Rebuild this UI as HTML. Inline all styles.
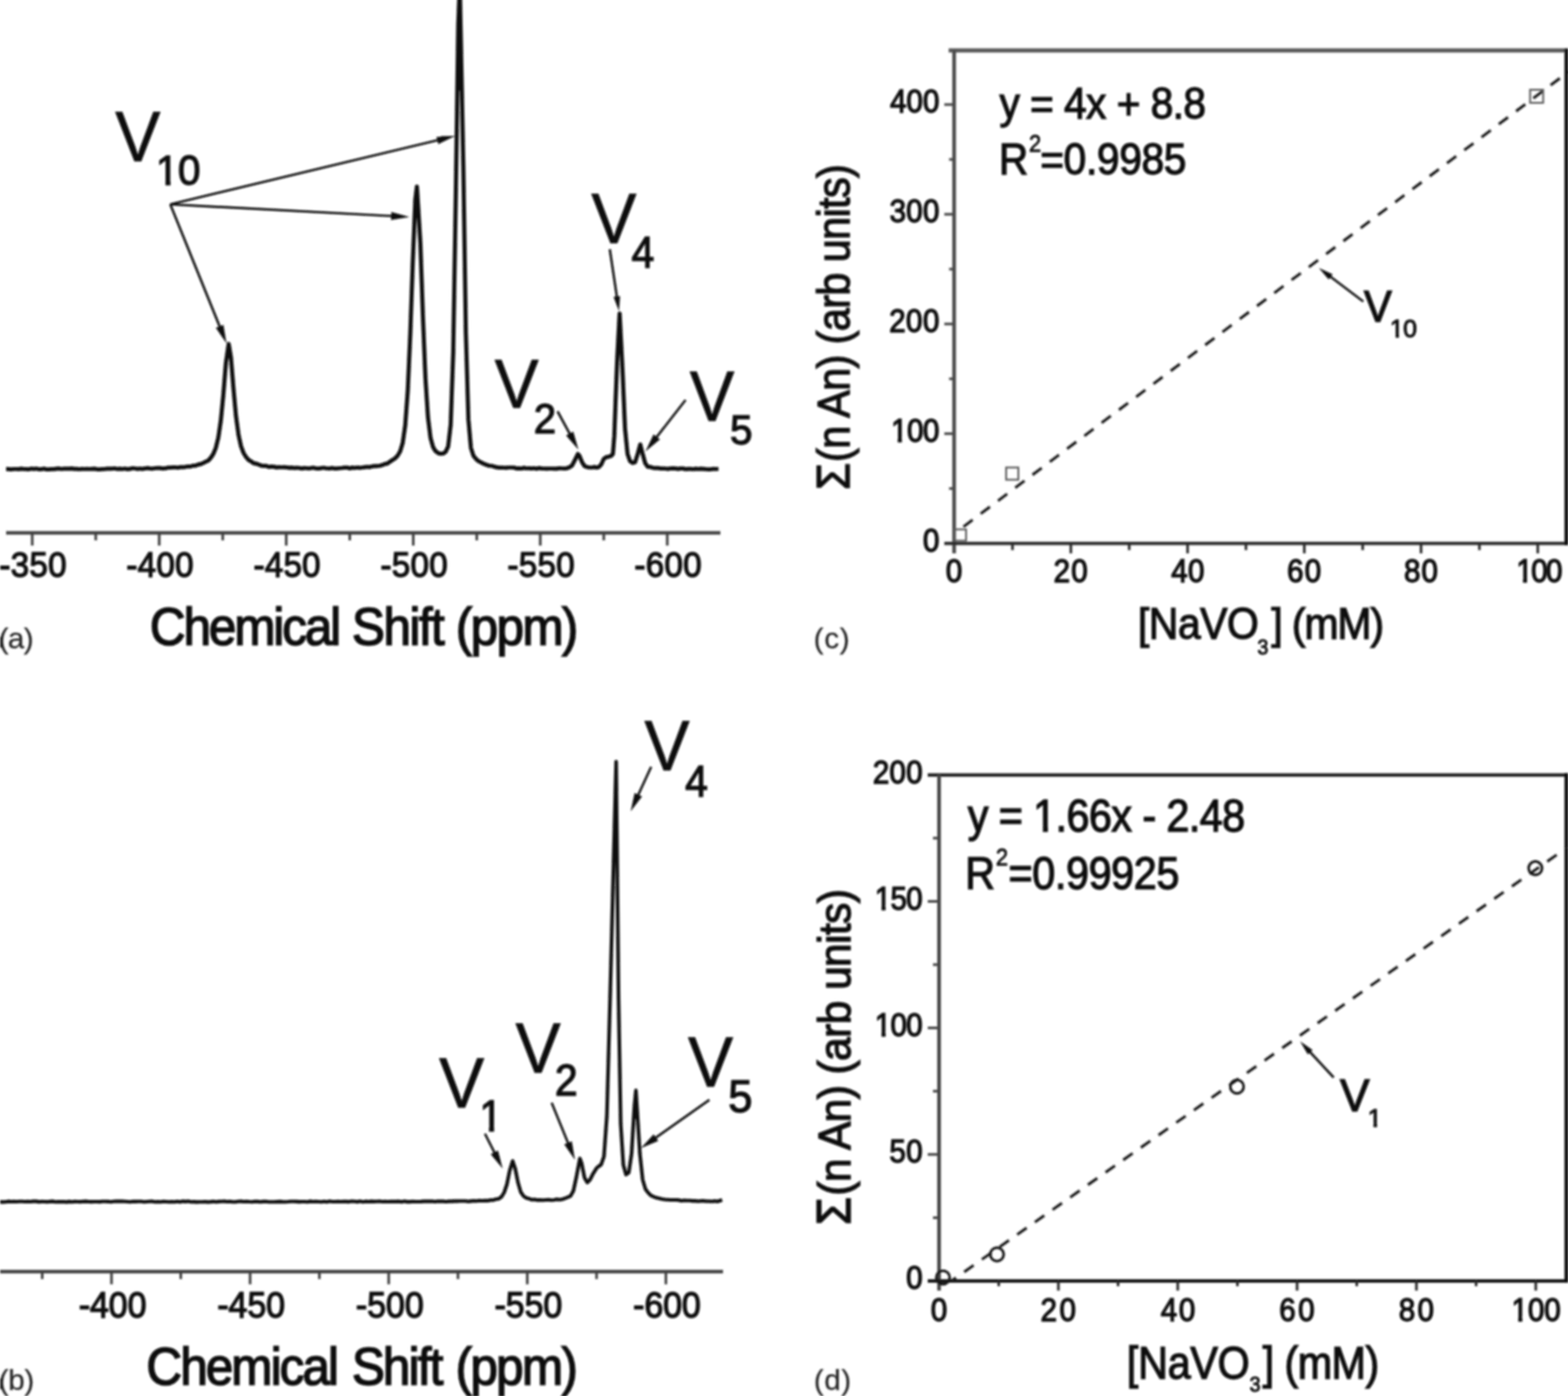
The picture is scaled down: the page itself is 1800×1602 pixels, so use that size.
<!DOCTYPE html>
<html lang="en">
<head>
<meta charset="utf-8">
<title>51V NMR spectra and calibration plots</title>
<style>
  html, body { margin: 0; padding: 0; background: #ffffff; }
  body { width: 1800px; height: 1602px; overflow: hidden; }
  svg { display: block; }
  text { font-family: "Liberation Sans", "DejaVu Sans", sans-serif; white-space: pre; }
</style>
</head>
<body>
<svg width="1800" height="1602" viewBox="0 0 1800 1602">
<defs><filter id="soft" x="-2%" y="-2%" width="104%" height="104%"><feGaussianBlur stdDeviation="0.9"/></filter><clipPath id="c1"><path clip-rule="evenodd" d="M-60,-131.2H208.51V98.4H-60ZM50.41,21.64H60.84V29.7H50.41ZM66.86,21.64H76.73V29.7H66.86Z"/></clipPath><clipPath id="c2"><path clip-rule="evenodd" d="M-60,-131.2H195.97V98.4H-60ZM49.88,21.11H60.39V29.2H49.88ZM66.45,21.11H76.41V29.2H66.45Z"/></clipPath><clipPath id="c3"><path clip-rule="evenodd" d="M-40,-43.8H138.67V18.25H-40ZM0.43,-4.73H8.33V2.4H0.43ZM13.25,-4.73H20.75V2.4H13.25Z"/></clipPath><clipPath id="c4"><path clip-rule="evenodd" d="M-40,-43.8H142.7V18.25H-40ZM0.43,-4.73H8.33V2.4H0.43ZM13.25,-4.73H20.75V2.4H13.25Z"/></clipPath><clipPath id="c5"><path clip-rule="evenodd" d="M-60,-79.2H151.18V59.4H-60ZM31.13,14.75H37.47V20.9H31.13ZM41.48,14.75H47.49V20.9H41.48Z"/></clipPath><clipPath id="c6"><path clip-rule="evenodd" d="M-40,-43.8H139.47V18.25H-40ZM0.43,-4.73H8.33V2.4H0.43ZM13.25,-4.73H20.75V2.4H13.25Z"/></clipPath><clipPath id="c7"><path clip-rule="evenodd" d="M-40,-43.8H139.47V18.25H-40ZM0.43,-4.73H8.33V2.4H0.43ZM13.25,-4.73H20.75V2.4H13.25Z"/></clipPath><clipPath id="c8"><path clip-rule="evenodd" d="M-40,-43.8H137.05V18.25H-40ZM0.43,-4.73H8.33V2.4H0.43ZM13.25,-4.73H20.75V2.4H13.25Z"/></clipPath><clipPath id="c9"><path clip-rule="evenodd" d="M-40,-61.2H441.61V25.5H-40ZM82.02,-5.81H92.85V2.4H82.02ZM99.05,-5.81H109.3V2.4H99.05Z"/></clipPath><clipPath id="c10"><path clip-rule="evenodd" d="M-60,-83.2H146.23V62.4H-60ZM32.73,14.36H39.23V20.7H32.73ZM43.38,14.36H49.53V20.7H43.38Z"/></clipPath></defs>
<rect x="0" y="0" width="1800" height="1602" fill="#ffffff"/>
<g id="fig" filter="url(#soft)">
<g id="panel-a">
<line x1="7" y1="611.6" x2="827" y2="611.6" stroke="#404040" stroke-width="4"/>
<line x1="37" y1="611.6" x2="37" y2="626.1" stroke="#404040" stroke-width="3"/>
<text transform="translate(-0.69 662.3) scale(0.93 1)" font-size="41" letter-spacing="0.31" fill="#0a0a0a" stroke="#0a0a0a" stroke-width="1.4">-350</text>
<line x1="182.8" y1="611.6" x2="182.8" y2="626.1" stroke="#404040" stroke-width="3"/>
<text transform="translate(145.11 662.3) scale(0.93 1)" font-size="41" letter-spacing="0.31" fill="#0a0a0a" stroke="#0a0a0a" stroke-width="1.4">-400</text>
<line x1="328.6" y1="611.6" x2="328.6" y2="626.1" stroke="#404040" stroke-width="3"/>
<text transform="translate(290.91 662.3) scale(0.93 1)" font-size="41" letter-spacing="0.31" fill="#0a0a0a" stroke="#0a0a0a" stroke-width="1.4">-450</text>
<line x1="474.4" y1="611.6" x2="474.4" y2="626.1" stroke="#404040" stroke-width="3"/>
<text transform="translate(436.71 662.3) scale(0.93 1)" font-size="41" letter-spacing="0.31" fill="#0a0a0a" stroke="#0a0a0a" stroke-width="1.4">-500</text>
<line x1="620.2" y1="611.6" x2="620.2" y2="626.1" stroke="#404040" stroke-width="3"/>
<text transform="translate(582.51 662.3) scale(0.93 1)" font-size="41" letter-spacing="0.31" fill="#0a0a0a" stroke="#0a0a0a" stroke-width="1.4">-550</text>
<line x1="766" y1="611.6" x2="766" y2="626.1" stroke="#404040" stroke-width="3"/>
<text transform="translate(728.31 662.3) scale(0.93 1)" font-size="41" letter-spacing="0.31" fill="#0a0a0a" stroke="#0a0a0a" stroke-width="1.4">-600</text>
<line x1="109.9" y1="611.6" x2="109.9" y2="620.1" stroke="#404040" stroke-width="3"/>
<line x1="255.7" y1="611.6" x2="255.7" y2="620.1" stroke="#404040" stroke-width="3"/>
<line x1="401.5" y1="611.6" x2="401.5" y2="620.1" stroke="#404040" stroke-width="3"/>
<line x1="547.3" y1="611.6" x2="547.3" y2="620.1" stroke="#404040" stroke-width="3"/>
<line x1="693.1" y1="611.6" x2="693.1" y2="620.1" stroke="#404040" stroke-width="3"/>
<text transform="translate(172.12 739.5) scale(0.93 1)" fill="#0a0a0a" stroke="#0a0a0a"><tspan x="0" y="0" font-size="61" letter-spacing="-2.58" stroke-width="1.7">Chemical </tspan><tspan x="249.47" y="0" font-size="61" letter-spacing="-1.94" stroke-width="1.7">Shift </tspan><tspan x="377.49" y="0" font-size="61" letter-spacing="-1.96" stroke-width="1.7">(ppm)</tspan></text>
<text transform="translate(-1.51 744.3) scale(1.0 1)" font-size="34" letter-spacing="-0.77" fill="#262626" stroke="#262626" stroke-width="0.25">(a)</text>
<rect x="0" y="731" width="2.5" height="12" fill="#222"/>
<path d="M7,538.22 L9.9,538.32 L12.8,538.69 L15.7,538.23 L18.6,538.26 L21.5,538.34 L24.4,537.94 L27.3,538.26 L30.2,538.37 L33.1,538.53 L36,537.83 L38.9,538.04 L41.8,537.82 L44.7,538.54 L47.6,538.42 L50.5,537.76 L53.4,538.7 L56.3,538.67 L59.2,538.36 L62.1,538.31 L65,537.85 L67.9,537.7 L70.8,538.21 L73.7,537.74 L76.6,537.86 L79.5,537.91 L82.4,537.69 L85.3,538.11 L88.2,538.08 L91.1,538.48 L94,538.15 L96.9,538.26 L99.8,538.11 L102.7,538.26 L105.6,538.05 L108.5,537.86 L111.4,538.57 L114.3,538.55 L117.2,538.39 L120.1,538.24 L123,537.84 L125.9,537.74 L128.8,537.78 L131.7,537.54 L134.6,538.22 L137.5,537.84 L140.4,538.26 L143.3,537.78 L146.2,538.33 L149.1,538.2 L152,537.32 L154.9,537.5 L157.8,538.17 L160.7,537.7 L163.6,538.17 L166.5,537.55 L169.4,537.19 L172.3,537.69 L175.2,537.79 L178.1,537.23 L181,536.98 L183.9,537.16 L186.8,537.71 L189.7,537.42 L192.6,536.68 L195.5,536.7 L198.4,536.43 L201.3,536.24 L204.2,536.82 L207.1,536.01 L210,536.17 L212.9,535.8 L215.8,535.24 L218.7,535.41 L221.6,534.36 L224.5,534.33 L227.4,533.13 L230.3,532.58 L233.2,531.27 L236.1,529.88 L239,528.61 L241.9,525.33 L244.8,521.08 L247.7,514.12 L250.6,502.31 L253.5,482.68 L256.4,452.95 L259.3,416.82 L262.5,394.73 L265.1,410.07 L268,445.63 L270.9,477.36 L273.8,498.96 L276.7,512.13 L279.6,519.87 L282.5,524.54 L285.4,527.87 L288.3,529.48 L291.2,531.59 L294.1,532.07 L297,533.14 L299.9,534.3 L302.8,534.65 L305.7,534.56 L308.6,535.82 L311.5,535.35 L314.4,535.65 L317.3,536.38 L320.2,536.12 L323.1,536.24 L326,536.15 L328.9,536.28 L331.8,536.88 L334.7,536.62 L337.6,537.05 L340.5,536.89 L343.4,537.02 L346.3,537.57 L349.2,537.14 L352.1,537.26 L355,537.58 L357.9,536.92 L360.8,536.9 L363.7,537.67 L366.6,537.58 L369.5,537.02 L372.4,536.95 L375.3,537.5 L378.2,537.68 L381.1,536.92 L384,537.66 L386.9,537.56 L389.8,537.25 L392.7,537.03 L395.6,536.66 L398.5,536.55 L401.4,537.41 L404.3,536.61 L407.2,536.99 L410.1,536.45 L413,536.9 L415.9,536.54 L418.8,536.07 L421.7,535.76 L424.6,536.06 L427.5,535.12 L430.4,534.91 L433.3,534.78 L436.2,534.5 L439.1,533.55 L442,532.32 L444.9,531.83 L447.8,529.71 L450.7,527.75 L453.6,525.95 L456.5,522.82 L459.4,517.84 L462.3,508.25 L465.2,488.08 L468.1,448.48 L471,383.27 L473.9,299.82 L476.8,229.34 L478.6,214.04 L482.6,279.39 L485.5,363.24 L488.4,433.86 L491.3,478.88 L494.2,502.26 L497.1,512.94 L500,517.7 L502.9,519.89 L505.8,520.71 L508.7,520.4 L511.6,518.56 L514.5,512.23 L517.4,487.09 L520.3,403.99 L523.2,227 L526.1,27.61 L527.8,-17.3 L531.9,190.68 L534.8,382.1 L537.7,481.15 L540.6,513.83 L543.5,523.08 L546.4,526.63 L549.3,529.2 L552.2,530.58 L555.1,532.04 L558,533.28 L560.9,534.3 L563.8,534.5 L566.7,535.24 L569.6,536.17 L572.5,536.58 L575.4,536.5 L578.3,536.74 L581.2,536.8 L584.1,536.49 L587,536.5 L589.9,536.58 L592.8,537.55 L595.7,537.41 L598.6,537.73 L601.5,536.85 L604.4,537.51 L607.3,537.39 L610.2,537.68 L613.1,537.29 L616,538 L618.9,537.09 L621.8,537.58 L624.7,537.78 L627.6,537.94 L630.5,537.77 L633.4,537.73 L636.3,537.79 L639.2,537.88 L642.1,537.26 L645,537.5 L647.9,537.58 L650.8,537.3 L653.7,536.19 L656.6,534.33 L659.5,528.8 L663.4,520.98 L665.3,523.32 L668.2,530.45 L671.1,534.84 L674,535.99 L676.9,536.49 L679.8,536.51 L682.7,535.84 L684.5,536.6 L687.5,536 L690.3,532.9 L693.2,526.4 L696.2,524.6 L699,524 L701.8,523 L703.6,520.9 L705.2,500.4 L706.6,462.4 L708.4,415.4 L711.3,359.89 L714.6,424.18 L717.5,491.74 L720.4,520.92 L723.3,529.18 L726.2,531.22 L729.1,530.42 L732,521.16 L735,510.03 L737.8,521.23 L740.7,531.64 L743.6,535.56 L746.5,535.79 L749.4,536.84 L752.3,537.03 L755.2,536.99 L758.1,537.61 L761,537.53 L763.9,537.75 L766.8,538.13 L769.7,537.53 L772.6,537.34 L775.5,537.67 L778.4,538.09 L781.3,537.65 L784.2,537.64 L787.1,538.41 L790,538.18 L792.9,537.99 L795.8,538.46 L798.7,537.91 L801.6,538.26 L804.5,537.81 L807.4,538.05 L810.3,538.44 L813.2,538.56 L816.1,538.54 L819,538.05 L821.9,538.26 L824.8,538" fill="none" stroke="#0a0a0a" stroke-width="4.7" stroke-linejoin="round" stroke-linecap="butt"/>
<polygon points="260.14,411 262.5,394.73 265.1,410.07 265.18,411" fill="#0a0a0a"/>
<polygon points="475.95,250 476.8,229.34 478.6,214.04 480.8,250" fill="#0a0a0a"/>
<polygon points="524.99,104 526.1,27.61 527.8,-17.3 530.19,104" fill="#0a0a0a"/>
<polygon points="709.73,390 711.3,359.89 712.85,390" fill="#0a0a0a"/>
<text transform="translate(132.16 185) scale(0.95 1)" clip-path="url(#c1)" fill="#0a0a0a" stroke="#0a0a0a"><tspan x="0" y="0" font-size="82" stroke-width="0.7">V</tspan><tspan x="49.36" y="27.3" font-size="49" letter-spacing="-0.65" stroke-width="1.4">10</tspan></text>
<line x1="195.5" y1="234.5" x2="504.02" y2="160.44" stroke="#0c0c0c" stroke-width="2.7"/>
<polygon points="522.5,156 503.18,165.47 500.98,156.33" fill="#0c0c0c"/>
<line x1="195.5" y1="234.5" x2="451.03" y2="248" stroke="#0c0c0c" stroke-width="2.7"/>
<polygon points="470,249 448.78,252.59 449.28,243.2" fill="#0c0c0c"/>
<line x1="195.5" y1="234.5" x2="252.88" y2="376.39" stroke="#0c0c0c" stroke-width="2.7"/>
<polygon points="260,394 247.77,376.29 256.48,372.77" fill="#0c0c0c"/>
<text transform="translate(678.66 278.5) scale(0.95 1)" fill="#0a0a0a" stroke="#0a0a0a"><tspan x="0" y="0" font-size="82" stroke-width="0.7">V</tspan><tspan x="48.7" y="28" font-size="49.44" stroke-width="1.4">4</tspan></text>
<line x1="700" y1="286" x2="708.39" y2="342.16" stroke="#0c0c0c" stroke-width="2.7"/>
<polygon points="710.6,357 704.33,340.75 711.85,339.63" fill="#0c0c0c"/>
<text transform="translate(567.67 467.5) scale(0.95 1)" fill="#0a0a0a" stroke="#0a0a0a"><tspan x="0" y="0" font-size="80" stroke-width="0.7">V</tspan><tspan x="47.39" y="29" font-size="48.41" stroke-width="1.4">2</tspan></text>
<line x1="640" y1="472" x2="654.9" y2="499.32" stroke="#0c0c0c" stroke-width="2.7"/>
<polygon points="664,516 649.82,499.81 658.07,495.31" fill="#0c0c0c"/>
<text transform="translate(791.66 482.5) scale(0.95 1)" fill="#0a0a0a" stroke="#0a0a0a"><tspan x="0" y="0" font-size="81" stroke-width="0.7">V</tspan><tspan x="48.92" y="27" font-size="48.93" stroke-width="1.4">5</tspan></text>
<line x1="787" y1="459" x2="752.68" y2="503.02" stroke="#0c0c0c" stroke-width="2.7"/>
<polygon points="741,518 750.21,498.55 757.62,504.33" fill="#0c0c0c"/>
</g>
<g id="panel-b">
<line x1="0" y1="1459.3" x2="830" y2="1459.3" stroke="#404040" stroke-width="4"/>
<line x1="128" y1="1459.3" x2="128" y2="1473.8" stroke="#404040" stroke-width="3"/>
<text transform="translate(90.41 1512) scale(0.93 1)" font-size="42" letter-spacing="-0.15" fill="#0a0a0a" stroke="#0a0a0a" stroke-width="1.4">-400</text>
<line x1="287.1" y1="1459.3" x2="287.1" y2="1473.8" stroke="#404040" stroke-width="3"/>
<text transform="translate(249.51 1512) scale(0.93 1)" font-size="42" letter-spacing="-0.15" fill="#0a0a0a" stroke="#0a0a0a" stroke-width="1.4">-450</text>
<line x1="446.2" y1="1459.3" x2="446.2" y2="1473.8" stroke="#404040" stroke-width="3"/>
<text transform="translate(408.61 1512) scale(0.93 1)" font-size="42" letter-spacing="-0.15" fill="#0a0a0a" stroke="#0a0a0a" stroke-width="1.4">-500</text>
<line x1="605.3" y1="1459.3" x2="605.3" y2="1473.8" stroke="#404040" stroke-width="3"/>
<text transform="translate(567.71 1512) scale(0.93 1)" font-size="42" letter-spacing="-0.15" fill="#0a0a0a" stroke="#0a0a0a" stroke-width="1.4">-550</text>
<line x1="764.4" y1="1459.3" x2="764.4" y2="1473.8" stroke="#404040" stroke-width="3"/>
<text transform="translate(726.81 1512) scale(0.93 1)" font-size="42" letter-spacing="-0.15" fill="#0a0a0a" stroke="#0a0a0a" stroke-width="1.4">-600</text>
<line x1="48.45" y1="1459.3" x2="48.45" y2="1467.8" stroke="#404040" stroke-width="3"/>
<line x1="207.55" y1="1459.3" x2="207.55" y2="1467.8" stroke="#404040" stroke-width="3"/>
<line x1="366.65" y1="1459.3" x2="366.65" y2="1467.8" stroke="#404040" stroke-width="3"/>
<line x1="525.75" y1="1459.3" x2="525.75" y2="1467.8" stroke="#404040" stroke-width="3"/>
<line x1="684.85" y1="1459.3" x2="684.85" y2="1467.8" stroke="#404040" stroke-width="3"/>
<text transform="translate(168.12 1589.3) scale(0.93 1)" fill="#0a0a0a" stroke="#0a0a0a"><tspan x="0" y="0" font-size="61" letter-spacing="-2.35" stroke-width="1.7">Chemical </tspan><tspan x="253.55" y="0" font-size="61" letter-spacing="-2.29" stroke-width="1.7">Shift </tspan><tspan x="381.57" y="0" font-size="61" letter-spacing="-2.04" stroke-width="1.7">(ppm)</tspan></text>
<text transform="translate(-1.51 1594.5) scale(1.0 1)" font-size="34" letter-spacing="-0.42" fill="#262626" stroke="#262626" stroke-width="0.25">(b)</text>
<rect x="0" y="1582" width="2.2" height="12" fill="#222"/>
<path d="M0,1379.32 L3.18,1379.34 L6.36,1379.3 L9.54,1378.65 L12.72,1379.06 L15.9,1378.92 L19.08,1379.01 L22.26,1378.69 L25.44,1378.74 L28.62,1378.94 L31.8,1378.76 L34.98,1378.95 L38.16,1378.6 L41.34,1378.65 L44.52,1379.15 L47.7,1378.92 L50.88,1378.99 L54.06,1379.17 L57.24,1378.87 L60.42,1378.63 L63.6,1379.21 L66.78,1379.05 L69.96,1379.11 L73.14,1379.08 L76.32,1379.36 L79.5,1378.87 L82.68,1379.19 L85.86,1378.87 L89.04,1379.04 L92.22,1379.11 L95.4,1378.83 L98.58,1378.65 L101.76,1378.96 L104.94,1379.15 L108.12,1379.05 L111.3,1378.93 L114.48,1379.09 L117.66,1378.72 L120.84,1378.72 L124.02,1378.83 L127.2,1379.23 L130.38,1378.73 L133.56,1378.67 L136.74,1378.65 L139.92,1378.61 L143.1,1378.79 L146.28,1379.03 L149.46,1379.23 L152.64,1378.84 L155.82,1378.87 L159,1378.8 L162.18,1378.82 L165.36,1379.19 L168.54,1379.01 L171.72,1378.78 L174.9,1378.66 L178.08,1379.2 L181.26,1379.14 L184.44,1379.23 L187.62,1378.76 L190.8,1379.01 L193.98,1379.3 L197.16,1379.04 L200.34,1379.32 L203.52,1378.7 L206.7,1379.35 L209.88,1378.61 L213.06,1378.9 L216.24,1378.58 L219.42,1379.21 L222.6,1379.11 L225.78,1379.34 L228.96,1379.21 L232.14,1379.32 L235.32,1378.99 L238.5,1379.35 L241.68,1379.16 L244.86,1378.84 L248.04,1379.34 L251.22,1378.86 L254.4,1378.71 L257.58,1378.62 L260.76,1378.93 L263.94,1378.71 L267.12,1379.3 L270.3,1379.32 L273.48,1378.73 L276.66,1378.64 L279.84,1378.98 L283.02,1378.69 L286.2,1378.99 L289.38,1379.2 L292.56,1378.75 L295.74,1378.89 L298.92,1379.27 L302.1,1378.9 L305.28,1378.82 L308.46,1379.26 L311.64,1379.2 L314.82,1379.26 L318,1379.09 L321.18,1378.87 L324.36,1379.09 L327.54,1379.2 L330.72,1379.05 L333.9,1378.73 L337.08,1378.77 L340.26,1378.86 L343.44,1379.15 L346.62,1378.98 L349.8,1378.97 L352.98,1379.19 L356.16,1378.61 L359.34,1379.03 L362.52,1378.79 L365.7,1378.97 L368.88,1379.19 L372.06,1378.72 L375.24,1379.28 L378.42,1378.58 L381.6,1378.96 L384.78,1378.95 L387.96,1378.7 L391.14,1378.96 L394.32,1378.88 L397.5,1378.86 L400.68,1379.08 L403.86,1378.5 L407.04,1378.8 L410.22,1379.12 L413.4,1378.6 L416.58,1379.18 L419.76,1378.65 L422.94,1379.03 L426.12,1378.62 L429.3,1378.83 L432.48,1378.81 L435.66,1378.53 L438.84,1379.02 L442.02,1378.84 L445.2,1379.01 L448.38,1378.88 L451.56,1378.89 L454.74,1378.86 L457.92,1378.67 L461.1,1379.15 L464.28,1378.49 L467.46,1379.12 L470.64,1379.1 L473.82,1378.8 L477,1379.02 L480.18,1378.93 L483.36,1378.86 L486.54,1378.6 L489.72,1378.62 L492.9,1378.63 L496.08,1378.58 L499.26,1379.09 L502.44,1378.58 L505.62,1378.61 L508.8,1378.62 L511.98,1378.92 L515.16,1378.62 L518.34,1378.66 L521.52,1378.4 L524.7,1378.39 L527.88,1378.21 L531.06,1378.27 L534.24,1378.27 L537.42,1378.69 L540.6,1378.36 L543.78,1377.97 L546.96,1378.18 L550.14,1377.8 L553.32,1378.03 L556.5,1377.78 L559.68,1377.9 L562.86,1377.14 L566.04,1377.22 L569.22,1376.15 L572.4,1375.78 L575.58,1373.55 L578.76,1368.5 L581.94,1359 L585.12,1343.37 L588.5,1332.28 L591.48,1341.26 L594.66,1357.17 L597.84,1368.04 L601.02,1372.64 L604.2,1374.8 L607.38,1375.59 L610.56,1376.69 L613.74,1376.42 L616.92,1377.14 L620.1,1376.98 L623.28,1377.26 L626.46,1376.95 L629.64,1376.73 L632.82,1377.3 L636,1376.95 L639.18,1376.35 L642.36,1376.71 L645.54,1376.24 L648.72,1375.05 L651.9,1373.93 L655.08,1372.37 L658.26,1366.48 L661.44,1351.77 L665.7,1329.39 L667.8,1335.29 L670.98,1351.4 L674.16,1357.08 L677.34,1353.79 L680.52,1347.46 L685,1340.29 L686.88,1338.72 L690.06,1336.48 L693.34,1327.05 L696.68,1280.45 L700.63,1135.43 L707.3,874.05 L710.1,1146.84 L712.55,1289.49 L715.57,1336.92 L718.68,1347.95 L721.86,1345.54 L725.04,1323.8 L728.22,1270.21 L730,1251.33 L734.58,1324.03 L737.76,1353.76 L740.94,1364.47 L744.12,1368.85 L747.3,1371.91 L750.48,1373.33 L753.66,1374.61 L756.84,1375.29 L760.02,1376.03 L763.2,1376.52 L766.38,1376.7 L769.56,1376.97 L772.74,1377 L775.92,1377.04 L779.1,1377.17 L782.28,1377.92 L785.46,1377.52 L788.64,1377.8 L791.82,1377.81 L795,1378.13 L798.18,1378.13 L801.36,1378.45 L804.54,1378.17 L807.72,1378.16 L810.9,1378.44 L814.08,1378.56 L817.26,1378.74 L820.44,1378.28 L823.62,1378.77 L829,1377" fill="none" stroke="#0a0a0a" stroke-width="4.1" stroke-linejoin="round" stroke-linecap="butt"/>
<polygon points="705.41,948 707.3,874.05 708.06,948" fill="#0a0a0a"/>
<polygon points="727.4,1284 728.22,1270.21 730,1251.33 732.06,1284" fill="#0a0a0a"/>
<text transform="translate(739.66 883.5) scale(0.95 1)" fill="#0a0a0a" stroke="#0a0a0a"><tspan x="0" y="0" font-size="82" stroke-width="0.7">V</tspan><tspan x="49.23" y="30" font-size="49.44" stroke-width="1.4">4</tspan></text>
<line x1="747.5" y1="880" x2="731.95" y2="913.74" stroke="#0c0c0c" stroke-width="2.7"/>
<polygon points="724,931 728.52,909.96 737.06,913.89" fill="#0c0c0c"/>
<text transform="translate(504.06 1271) scale(0.95 1)" clip-path="url(#c2)" fill="#0a0a0a" stroke="#0a0a0a"><tspan x="0" y="0" font-size="82" stroke-width="0.7">V</tspan><tspan x="48.8" y="26.8" font-size="49.44" stroke-width="1.4">1</tspan></text>
<line x1="556.7" y1="1301" x2="568.4" y2="1324.06" stroke="#0c0c0c" stroke-width="2.7"/>
<polygon points="577,1341 563.31,1324.4 571.69,1320.15" fill="#0c0c0c"/>
<text transform="translate(591.86 1230.5) scale(0.95 1)" fill="#0a0a0a" stroke="#0a0a0a"><tspan x="0" y="0" font-size="82" stroke-width="0.7">V</tspan><tspan x="47.45" y="26.8" font-size="49.44" stroke-width="1.4">2</tspan></text>
<line x1="633.3" y1="1265.5" x2="652.83" y2="1313.41" stroke="#0c0c0c" stroke-width="2.7"/>
<polygon points="660,1331 647.72,1313.33 656.43,1309.78" fill="#0c0c0c"/>
<text transform="translate(789.66 1247) scale(0.95 1)" fill="#0a0a0a" stroke="#0a0a0a"><tspan x="0" y="0" font-size="82" stroke-width="0.7">V</tspan><tspan x="48.78" y="29" font-size="52.53" stroke-width="1.4">5</tspan></text>
<line x1="814.4" y1="1262.2" x2="751.33" y2="1306.65" stroke="#0c0c0c" stroke-width="2.7"/>
<polygon points="735.8,1317.6 750.26,1301.66 755.67,1309.34" fill="#0c0c0c"/>
</g>
<g id="panel-c">
<line x1="1089" y1="57.8" x2="1800" y2="57.8" stroke="#585858" stroke-width="4.8"/>
<line x1="1095.3" y1="57.8" x2="1095.3" y2="635" stroke="#4a4a4a" stroke-width="4.2"/>
<line x1="1084" y1="623.6" x2="1800" y2="623.6" stroke="#2a2a2a" stroke-width="3.6"/>
<line x1="1798.2" y1="55.8" x2="1798.2" y2="625.6" stroke="#111" stroke-width="4.5"/>
<text transform="translate(1059.45 632.9) scale(0.93 1)" font-size="36.5" fill="#0a0a0a" stroke="#0a0a0a" stroke-width="1.4">0</text>
<line x1="1084" y1="497.7" x2="1095.3" y2="497.7" stroke="#4a4a4a" stroke-width="3"/>
<text transform="translate(1022.91 507) scale(0.93 1)" font-size="36.5" letter-spacing="-0.66" clip-path="url(#c3)" fill="#0a0a0a" stroke="#0a0a0a" stroke-width="1.4">100</text>
<line x1="1084" y1="371.8" x2="1095.3" y2="371.8" stroke="#4a4a4a" stroke-width="3"/>
<text transform="translate(1020.79 381.1) scale(0.93 1)" font-size="36.5" letter-spacing="0.48" fill="#0a0a0a" stroke="#0a0a0a" stroke-width="1.4">200</text>
<line x1="1084" y1="245.9" x2="1095.3" y2="245.9" stroke="#4a4a4a" stroke-width="3"/>
<text transform="translate(1021.21 255.2) scale(0.93 1)" font-size="36.5" letter-spacing="0.26" fill="#0a0a0a" stroke="#0a0a0a" stroke-width="1.4">300</text>
<line x1="1084" y1="120" x2="1095.3" y2="120" stroke="#4a4a4a" stroke-width="3"/>
<text transform="translate(1021.72 129.3) scale(0.93 1)" font-size="36.5" letter-spacing="-0.02" fill="#0a0a0a" stroke="#0a0a0a" stroke-width="1.4">400</text>
<line x1="1089.5" y1="560.65" x2="1095.3" y2="560.65" stroke="#4a4a4a" stroke-width="3"/>
<line x1="1089.5" y1="434.75" x2="1095.3" y2="434.75" stroke="#4a4a4a" stroke-width="3"/>
<line x1="1089.5" y1="308.85" x2="1095.3" y2="308.85" stroke="#4a4a4a" stroke-width="3"/>
<line x1="1089.5" y1="182.95" x2="1095.3" y2="182.95" stroke="#4a4a4a" stroke-width="3"/>
<text transform="translate(1085.86 668.3) scale(0.93 1)" font-size="36.5" fill="#0a0a0a" stroke="#0a0a0a" stroke-width="1.4">0</text>
<line x1="1229.3" y1="623.6" x2="1229.3" y2="635" stroke="#2a2a2a" stroke-width="3"/>
<text transform="translate(1209.59 668.3) scale(0.93 1)" font-size="36.5" letter-spacing="1.37" fill="#0a0a0a" stroke="#0a0a0a" stroke-width="1.4">20</text>
<line x1="1363.3" y1="623.6" x2="1363.3" y2="635" stroke="#2a2a2a" stroke-width="3"/>
<text transform="translate(1344.52 668.3) scale(0.93 1)" font-size="36.5" letter-spacing="0.37" fill="#0a0a0a" stroke="#0a0a0a" stroke-width="1.4">40</text>
<line x1="1497.3" y1="623.6" x2="1497.3" y2="635" stroke="#2a2a2a" stroke-width="3"/>
<text transform="translate(1477.58 668.3) scale(0.93 1)" font-size="36.5" letter-spacing="1.39" fill="#0a0a0a" stroke="#0a0a0a" stroke-width="1.4">60</text>
<line x1="1631.3" y1="623.6" x2="1631.3" y2="635" stroke="#2a2a2a" stroke-width="3"/>
<text transform="translate(1611.82 668.3) scale(0.93 1)" font-size="36.5" letter-spacing="1.12" fill="#0a0a0a" stroke="#0a0a0a" stroke-width="1.4">80</text>
<line x1="1765.3" y1="623.6" x2="1765.3" y2="635" stroke="#2a2a2a" stroke-width="3"/>
<text transform="translate(1740.71 668.3) scale(0.93 1)" font-size="36.5" letter-spacing="-2" clip-path="url(#c4)" fill="#0a0a0a" stroke="#0a0a0a" stroke-width="1.4">100</text>
<line x1="1162.3" y1="623.6" x2="1162.3" y2="631.3" stroke="#2a2a2a" stroke-width="3"/>
<line x1="1296.3" y1="623.6" x2="1296.3" y2="631.3" stroke="#2a2a2a" stroke-width="3"/>
<line x1="1430.3" y1="623.6" x2="1430.3" y2="631.3" stroke="#2a2a2a" stroke-width="3"/>
<line x1="1564.3" y1="623.6" x2="1564.3" y2="631.3" stroke="#2a2a2a" stroke-width="3"/>
<line x1="1698.3" y1="623.6" x2="1698.3" y2="631.3" stroke="#2a2a2a" stroke-width="3"/>
<line x1="1106.02" y1="604.46" x2="1800.81" y2="82.23" stroke="#1e1e1e" stroke-width="3.2" stroke-dasharray="13.2 11.6"/>
<rect x="1096" y="607.5" width="13" height="13" fill="none" stroke="#5a5a5a" stroke-width="2.1"/>
<rect x="1155" y="536.5" width="14" height="14" fill="none" stroke="#5a5a5a" stroke-width="2.1"/>
<rect x="1756.5" y="103" width="15" height="15" fill="none" stroke="#5a5a5a" stroke-width="2.1"/>
<text transform="translate(1147.39 136) scale(0.93 1)" font-size="50" letter-spacing="-0.57" fill="#0a0a0a" stroke="#0a0a0a" stroke-width="1.4">y = 4x + 8.8</text>
<text transform="translate(1146.69 200) scale(0.93 1)" fill="#0a0a0a" stroke="#0a0a0a"><tspan x="0" y="0" font-size="50" stroke-width="1.4">R</tspan><tspan x="37.15" y="-26.5" font-size="27" stroke-width="0.8">2</tspan><tspan x="51.12" y="0" font-size="50" letter-spacing="-0.3" stroke-width="1.4">=0.9985</tspan></text>
<text transform="translate(975 562.15) rotate(-90) scale(0.93 1)" fill="#0a0a0a" stroke="#0a0a0a"><tspan x="0" y="0" font-size="54" stroke-width="1.4">Σ </tspan><tspan x="34.42" y="0" font-size="51" letter-spacing="-0.72" stroke-width="1.4">(n An) (arb units)</tspan></text>
<text transform="translate(1306.25 732.8) scale(0.93 1)" fill="#0a0a0a" stroke="#0a0a0a"><tspan x="0" y="0" font-size="50.5" letter-spacing="-0.55" stroke-width="1.4">[NaVO</tspan><tspan x="147.51" y="18.4" font-size="24.3" stroke-width="1.0">3</tspan><tspan x="164.71" y="0" font-size="50.5" letter-spacing="-1.32" stroke-width="1.4">] (mM)</tspan></text>
<text transform="translate(933.89 744.3) scale(1.0 1)" font-size="34" letter-spacing="0.94" fill="#262626" stroke="#262626" stroke-width="0.25">(c)</text>
<text transform="translate(1565.79 368.5) scale(0.97 1)" clip-path="url(#c5)" fill="#0a0a0a" stroke="#0a0a0a"><tspan x="0" y="0" font-size="49.5" stroke-width="1.4">V</tspan><tspan x="30.75" y="18.8" font-size="29.5" letter-spacing="-0.75" stroke-width="1.1">10</tspan></text>
<line x1="1565" y1="346" x2="1525.97" y2="316.54" stroke="#0c0c0c" stroke-width="2.7"/>
<polygon points="1514,307.5 1529.86,314.71 1525.28,320.78" fill="#0c0c0c"/>
</g>
<g id="panel-d">
<line x1="1065" y1="889.3" x2="1800" y2="889.3" stroke="#141414" stroke-width="3.8"/>
<line x1="1078" y1="889.3" x2="1078" y2="1481" stroke="#444" stroke-width="4.2"/>
<line x1="1065" y1="1470" x2="1800" y2="1470" stroke="#141414" stroke-width="3.8"/>
<line x1="1798.2" y1="887.3" x2="1798.2" y2="1472" stroke="#111" stroke-width="4.5"/>
<text transform="translate(1040.25 1479.3) scale(0.93 1)" font-size="36.5" fill="#0a0a0a" stroke="#0a0a0a" stroke-width="1.4">0</text>
<line x1="1065" y1="1324.8" x2="1078" y2="1324.8" stroke="#444" stroke-width="3"/>
<text transform="translate(1020.94 1334.1) scale(0.93 1)" font-size="36.5" letter-spacing="0.46" fill="#0a0a0a" stroke="#0a0a0a" stroke-width="1.4">50</text>
<line x1="1065" y1="1179.6" x2="1078" y2="1179.6" stroke="#444" stroke-width="3"/>
<text transform="translate(1004.21 1188.9) scale(0.93 1)" font-size="36.5" letter-spacing="-0.93" clip-path="url(#c6)" fill="#0a0a0a" stroke="#0a0a0a" stroke-width="1.4">100</text>
<line x1="1065" y1="1034.4" x2="1078" y2="1034.4" stroke="#444" stroke-width="3"/>
<text transform="translate(1004.21 1043.7) scale(0.93 1)" font-size="36.5" letter-spacing="-0.93" clip-path="url(#c7)" fill="#0a0a0a" stroke="#0a0a0a" stroke-width="1.4">150</text>
<text transform="translate(1001.89 898.5) scale(0.93 1)" font-size="36.5" letter-spacing="0.32" fill="#0a0a0a" stroke="#0a0a0a" stroke-width="1.4">200</text>
<line x1="1071" y1="1397.4" x2="1078" y2="1397.4" stroke="#444" stroke-width="3"/>
<line x1="1071" y1="1252.2" x2="1078" y2="1252.2" stroke="#444" stroke-width="3"/>
<line x1="1071" y1="1107" x2="1078" y2="1107" stroke="#444" stroke-width="3"/>
<line x1="1071" y1="961.8" x2="1078" y2="961.8" stroke="#444" stroke-width="3"/>
<text transform="translate(1068.56 1515.6) scale(0.93 1)" font-size="36.5" fill="#0a0a0a" stroke="#0a0a0a" stroke-width="1.4">0</text>
<line x1="1215" y1="1470" x2="1215" y2="1481" stroke="#2a2a2a" stroke-width="3"/>
<text transform="translate(1194.54 1515.6) scale(0.93 1)" font-size="36.5" letter-spacing="2.98" fill="#0a0a0a" stroke="#0a0a0a" stroke-width="1.4">20</text>
<line x1="1352" y1="1470" x2="1352" y2="1481" stroke="#2a2a2a" stroke-width="3"/>
<text transform="translate(1332.47 1515.6) scale(0.93 1)" font-size="36.5" letter-spacing="1.99" fill="#0a0a0a" stroke="#0a0a0a" stroke-width="1.4">40</text>
<line x1="1489" y1="1470" x2="1489" y2="1481" stroke="#2a2a2a" stroke-width="3"/>
<text transform="translate(1468.53 1515.6) scale(0.93 1)" font-size="36.5" letter-spacing="3" fill="#0a0a0a" stroke="#0a0a0a" stroke-width="1.4">60</text>
<line x1="1626" y1="1470" x2="1626" y2="1481" stroke="#2a2a2a" stroke-width="3"/>
<text transform="translate(1605.77 1515.6) scale(0.93 1)" font-size="36.5" letter-spacing="2.74" fill="#0a0a0a" stroke="#0a0a0a" stroke-width="1.4">80</text>
<line x1="1763" y1="1470" x2="1763" y2="1481" stroke="#2a2a2a" stroke-width="3"/>
<text transform="translate(1735.16 1515.6) scale(0.93 1)" font-size="36.5" letter-spacing="-0.12" clip-path="url(#c8)" fill="#0a0a0a" stroke="#0a0a0a" stroke-width="1.4">100</text>
<line x1="1146.5" y1="1470" x2="1146.5" y2="1476" stroke="#2a2a2a" stroke-width="3"/>
<line x1="1283.5" y1="1470" x2="1283.5" y2="1476" stroke="#2a2a2a" stroke-width="3"/>
<line x1="1420.5" y1="1470" x2="1420.5" y2="1476" stroke="#2a2a2a" stroke-width="3"/>
<line x1="1557.5" y1="1470" x2="1557.5" y2="1476" stroke="#2a2a2a" stroke-width="3"/>
<line x1="1694.5" y1="1470" x2="1694.5" y2="1476" stroke="#2a2a2a" stroke-width="3"/>
<line x1="1093.07" y1="1469.3" x2="1799.31" y2="972.29" stroke="#1e1e1e" stroke-width="3.2" stroke-dasharray="13.2 11.6" stroke-dashoffset="7.9"/>
<circle cx="1082.5" cy="1466" r="7.7" fill="none" stroke="#141414" stroke-width="3"/>
<circle cx="1144.5" cy="1439.5" r="7.7" fill="none" stroke="#141414" stroke-width="3"/>
<circle cx="1420" cy="1247" r="7.7" fill="none" stroke="#141414" stroke-width="3"/>
<circle cx="1762.5" cy="996.3" r="7.7" fill="none" stroke="#141414" stroke-width="3"/>
<text transform="translate(1110.88 954) scale(0.93 1)" font-size="51" letter-spacing="-0.69" clip-path="url(#c9)" fill="#0a0a0a" stroke="#0a0a0a" stroke-width="1.4">y = 1.66x - 2.48</text>
<text transform="translate(1108.11 1020) scale(0.93 1)" fill="#0a0a0a" stroke="#0a0a0a"><tspan x="0" y="0" font-size="51" stroke-width="1.4">R</tspan><tspan x="37.77" y="-27" font-size="27" stroke-width="0.8">2</tspan><tspan x="53.31" y="0" font-size="51" letter-spacing="-0.44" stroke-width="1.4">=0.99925</tspan></text>
<text transform="translate(975.5 1405.72) rotate(-90) scale(0.93 1)" fill="#0a0a0a" stroke="#0a0a0a"><tspan x="0" y="0" font-size="55.5" stroke-width="1.7">Σ </tspan><tspan x="36.23" y="0" font-size="52.5" letter-spacing="-0.74" stroke-width="1.4">(n An) (arb units)</tspan></text>
<text transform="translate(1293.62 1582.2) scale(0.93 1)" fill="#0a0a0a" stroke="#0a0a0a"><tspan x="0" y="0" font-size="51" letter-spacing="-0.32" stroke-width="1.4">[NaVO</tspan><tspan x="151.42" y="14.3" font-size="24.3" stroke-width="1.0">3</tspan><tspan x="167.54" y="0" font-size="51" letter-spacing="-0.66" stroke-width="1.4">] (mM)</tspan></text>
<text transform="translate(934.29 1594.5) scale(1.0 1)" font-size="34" letter-spacing="0.58" fill="#262626" stroke="#262626" stroke-width="0.25">(d)</text>
<text transform="translate(1538.28 1274.5) scale(0.98 1)" clip-path="url(#c10)" fill="#0a0a0a" stroke="#0a0a0a"><tspan x="0" y="0" font-size="52" stroke-width="1.4">V</tspan><tspan x="32.43" y="18.5" font-size="30" stroke-width="1.2">1</tspan></text>
<line x1="1531" y1="1236.5" x2="1502.7" y2="1206" stroke="#0c0c0c" stroke-width="2.7"/>
<polygon points="1492.5,1195 1506.85,1204.88 1501.28,1210.05" fill="#0c0c0c"/>
</g>
</g>
</svg>
</body>
</html>
